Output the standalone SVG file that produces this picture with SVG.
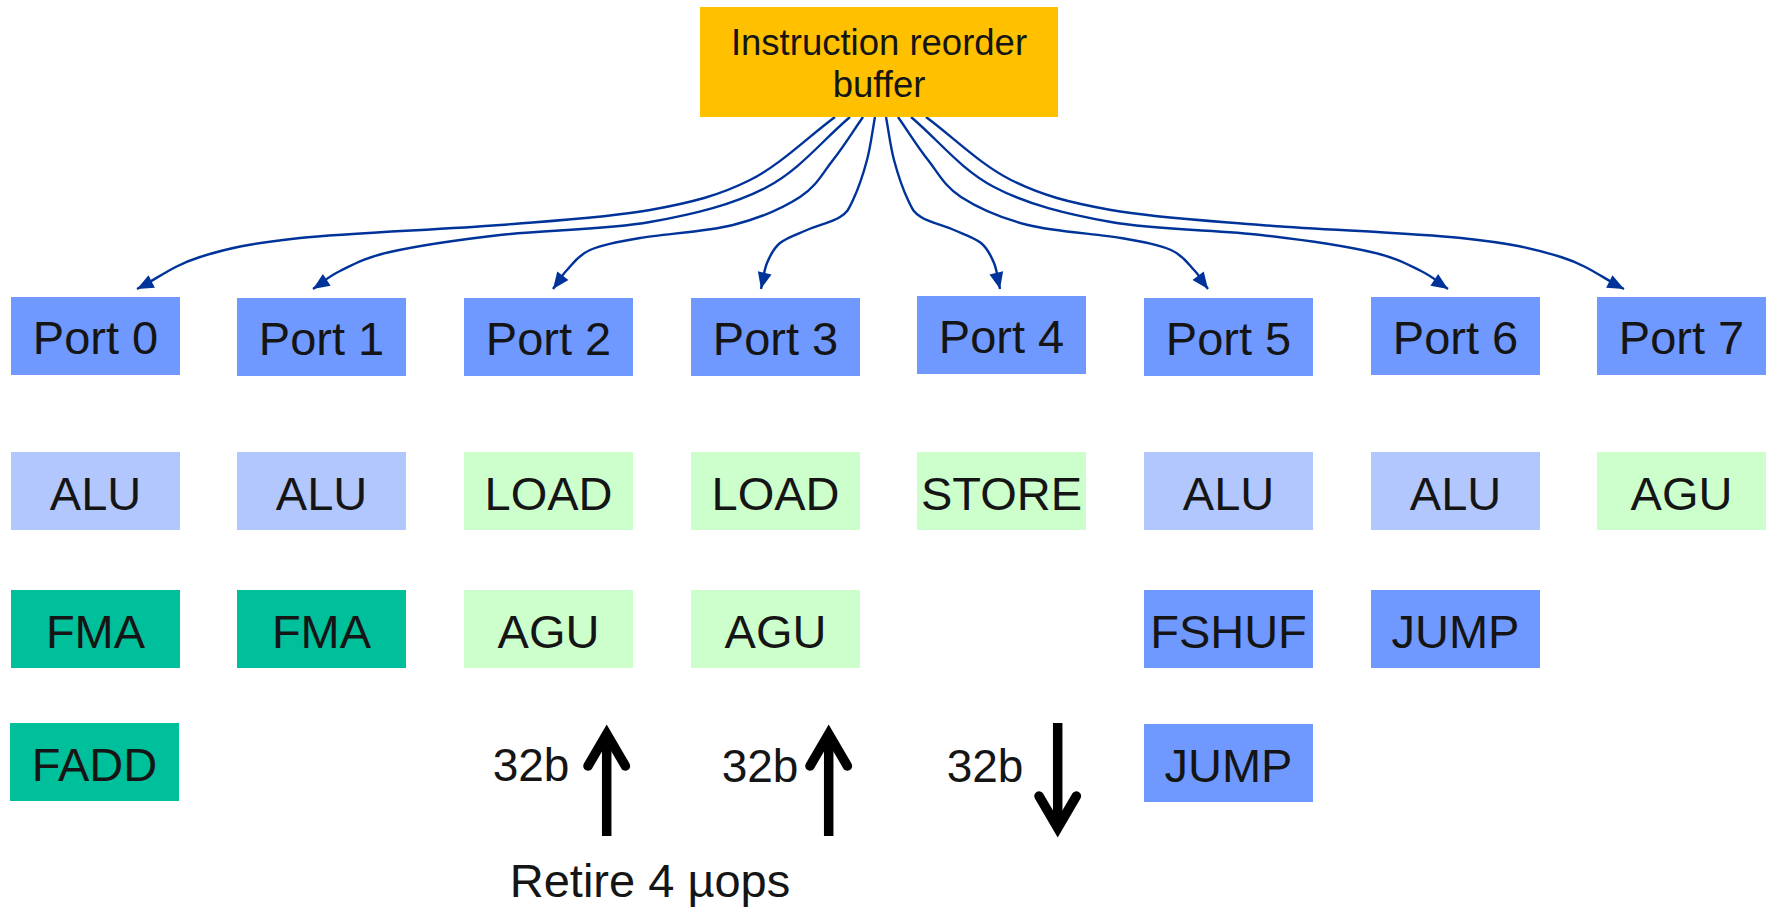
<svg xmlns="http://www.w3.org/2000/svg" width="1770" height="913" viewBox="0 0 1770 913">
<style>
.rob{fill:#ffc000}
.port{fill:#7099ff}
.alu{fill:#b3c7ff}
.grn{fill:#ccffcc}
.teal{fill:#00bf9b}
text{font-family:"Liberation Sans",Arial,sans-serif;fill:#151515;text-anchor:middle}
.lbl{font-size:47px}
.small{font-size:36.5px}
.b{font-size:46px}
.conn{fill:none;stroke:#003399;stroke-width:2.4;marker-end:url(#ah)}
.bus{fill:none;stroke:#000;stroke-width:9.5}
.head{fill:none;stroke:#000;stroke-width:9.5;stroke-linecap:round;stroke-linejoin:miter;stroke-miterlimit:10}
</style>
<defs>
<marker id="ah" markerUnits="userSpaceOnUse" markerWidth="20" markerHeight="18" viewBox="-18 -9 20 18" refX="0" refY="0" orient="auto">
<path d="M0,0 L-16.5,-7 L-16.5,7 Z" fill="#003399"/>
</marker>
</defs>
<rect width="1770" height="913" fill="#ffffff"/>

<g id="connectors">
<path class="conn" d="M835,117 C806.7,138 780.8,164.5 750,180 C719.2,195.5 691.7,202.5 650,210 C608.3,217.5 558.3,220.3 500,225 C441.7,229.7 350,232.7 300,238 C250,243.3 227.2,248.5 200,257 C172.8,265.5 158,278.3 137,289"/>
<path class="conn" d="M850,117 C822.3,140.3 800.3,169.5 767,187 C733.7,204.5 694.5,214 650,222 C605.5,230 543.3,230 500,235 C456.7,240 416.7,246 390,252 C363.3,258 352.8,264.8 340,271 C327.2,277.2 322,283 313,289"/>
<path class="conn" d="M863,117 C853,131.3 843.5,146.7 833,160 C822.5,173.3 816.7,186.2 800,197 C783.3,207.8 759.7,218.2 733,225 C706.3,231.8 663.8,233.8 640,238 C616.2,242.2 602.2,244.7 590,250 C577.8,255.3 573.2,263.5 567,270 C560.8,276.5 557.7,282.7 553,289"/>
<path class="conn" d="M875,117 C872.3,131.3 870.7,146.2 867,160 C863.3,173.8 857.5,190.5 853,200 C848.5,209.5 847.7,212 840,217 C832.3,222 817,225.7 807,230 C797,234.3 786.7,237.5 780,243 C773.3,248.5 770.2,255.3 767,263 C763.8,270.7 763,280.3 761,289"/>
<g transform="matrix(-1 0 0 1 1761 0)">
<path class="conn" d="M875,117 C872.3,131.3 870.7,146.2 867,160 C863.3,173.8 857.5,190.5 853,200 C848.5,209.5 847.7,212 840,217 C832.3,222 817,225.7 807,230 C797,234.3 786.7,237.5 780,243 C773.3,248.5 770.2,255.3 767,263 C763.8,270.7 763,280.3 761,289"/>
<path class="conn" d="M863,117 C853,131.3 843.5,146.7 833,160 C822.5,173.3 816.7,186.2 800,197 C783.3,207.8 759.7,218.2 733,225 C706.3,231.8 663.8,233.8 640,238 C616.2,242.2 602.2,244.7 590,250 C577.8,255.3 573.2,263.5 567,270 C560.8,276.5 557.7,282.7 553,289"/>
<path class="conn" d="M850,117 C822.3,140.3 800.3,169.5 767,187 C733.7,204.5 694.5,214 650,222 C605.5,230 543.3,230 500,235 C456.7,240 416.7,246 390,252 C363.3,258 352.8,264.8 340,271 C327.2,277.2 322,283 313,289"/>
<path class="conn" d="M835,117 C806.7,138 780.8,164.5 750,180 C719.2,195.5 691.7,202.5 650,210 C608.3,217.5 558.3,220.3 500,225 C441.7,229.7 350,232.7 300,238 C250,243.3 227.2,248.5 200,257 C172.8,265.5 158,278.3 137,289"/>
</g>
</g>

<g id="rob">
<rect class="rob" x="700" y="7" width="358" height="110"/>
<text class="small" x="879" y="55">Instruction reorder</text>
<text class="small" x="879" y="97">buffer</text>
</g>

<g id="port0"><rect class="port" x="11" y="297" width="169" height="78"/><text class="lbl" x="95.5" y="354">Port 0</text></g>
<g id="port1"><rect class="port" x="237" y="298" width="169" height="78"/><text class="lbl" x="321.5" y="355">Port 1</text></g>
<g id="port2"><rect class="port" x="464" y="298" width="169" height="78"/><text class="lbl" x="548.5" y="355">Port 2</text></g>
<g id="port3"><rect class="port" x="691" y="298" width="169" height="78"/><text class="lbl" x="775.5" y="355">Port 3</text></g>
<g id="port4"><rect class="port" x="917" y="296" width="169" height="78"/><text class="lbl" x="1001.5" y="353">Port 4</text></g>
<g id="port5"><rect class="port" x="1144" y="298" width="169" height="78"/><text class="lbl" x="1228.5" y="355">Port 5</text></g>
<g id="port6"><rect class="port" x="1371" y="297" width="169" height="78"/><text class="lbl" x="1455.5" y="354">Port 6</text></g>
<g id="port7"><rect class="port" x="1597" y="297" width="169" height="78"/><text class="lbl" x="1681.5" y="354">Port 7</text></g>

<g id="alu0"><rect class="alu" x="11" y="452" width="169" height="78"/><text class="lbl" x="95.5" y="510">ALU</text></g>
<g id="alu1"><rect class="alu" x="237" y="452" width="169" height="78"/><text class="lbl" x="321.5" y="510">ALU</text></g>
<g id="load2"><rect class="grn" x="464" y="452" width="169" height="78"/><text class="lbl" x="548.5" y="510">LOAD</text></g>
<g id="load3"><rect class="grn" x="691" y="452" width="169" height="78"/><text class="lbl" x="775.5" y="510">LOAD</text></g>
<g id="store4"><rect class="grn" x="917" y="452" width="169" height="78"/><text class="lbl" x="1001.5" y="510">STORE</text></g>
<g id="alu5"><rect class="alu" x="1144" y="452" width="169" height="78"/><text class="lbl" x="1228.5" y="510">ALU</text></g>
<g id="alu6"><rect class="alu" x="1371" y="452" width="169" height="78"/><text class="lbl" x="1455.5" y="510">ALU</text></g>
<g id="agu7"><rect class="grn" x="1597" y="452" width="169" height="78"/><text class="lbl" x="1681.5" y="510">AGU</text></g>

<g id="fma0"><rect class="teal" x="11" y="590" width="169" height="78"/><text class="lbl" x="95.5" y="648">FMA</text></g>
<g id="fma1"><rect class="teal" x="237" y="590" width="169" height="78"/><text class="lbl" x="321.5" y="648">FMA</text></g>
<g id="agu2"><rect class="grn" x="464" y="590" width="169" height="78"/><text class="lbl" x="548.5" y="648">AGU</text></g>
<g id="agu3"><rect class="grn" x="691" y="590" width="169" height="78"/><text class="lbl" x="775.5" y="648">AGU</text></g>
<g id="fshuf5"><rect class="port" x="1144" y="590" width="169" height="78"/><text class="lbl" x="1228.5" y="648">FSHUF</text></g>
<g id="jump6"><rect class="port" x="1371" y="590" width="169" height="78"/><text class="lbl" x="1455.5" y="648">JUMP</text></g>

<g id="fadd0"><rect class="teal" x="10" y="723" width="169" height="78"/><text class="lbl" x="94.5" y="781">FADD</text></g>
<g id="jump5"><rect class="port" x="1144" y="724" width="169" height="78"/><text class="lbl" x="1228.5" y="782">JUMP</text></g>

<g id="bus">
<line class="bus" x1="606.7" y1="734" x2="606.7" y2="836"/>
<polyline class="head" points="588,766 606.7,734 625.4,766"/>
<line class="bus" x1="828.7" y1="734" x2="828.7" y2="836"/>
<polyline class="head" points="810,766 828.7,734 847.4,766"/>
<line class="bus" x1="1057.7" y1="723" x2="1057.7" y2="828"/>
<polyline class="head" points="1039,796 1057.7,828 1076.4,796"/>
<text class="b" x="531" y="781">32b</text>
<text class="b" x="760" y="782">32b</text>
<text class="b" x="985" y="782">32b</text>
<text class="lbl" x="650" y="897">Retire 4 µops</text>
</g>
</svg>
